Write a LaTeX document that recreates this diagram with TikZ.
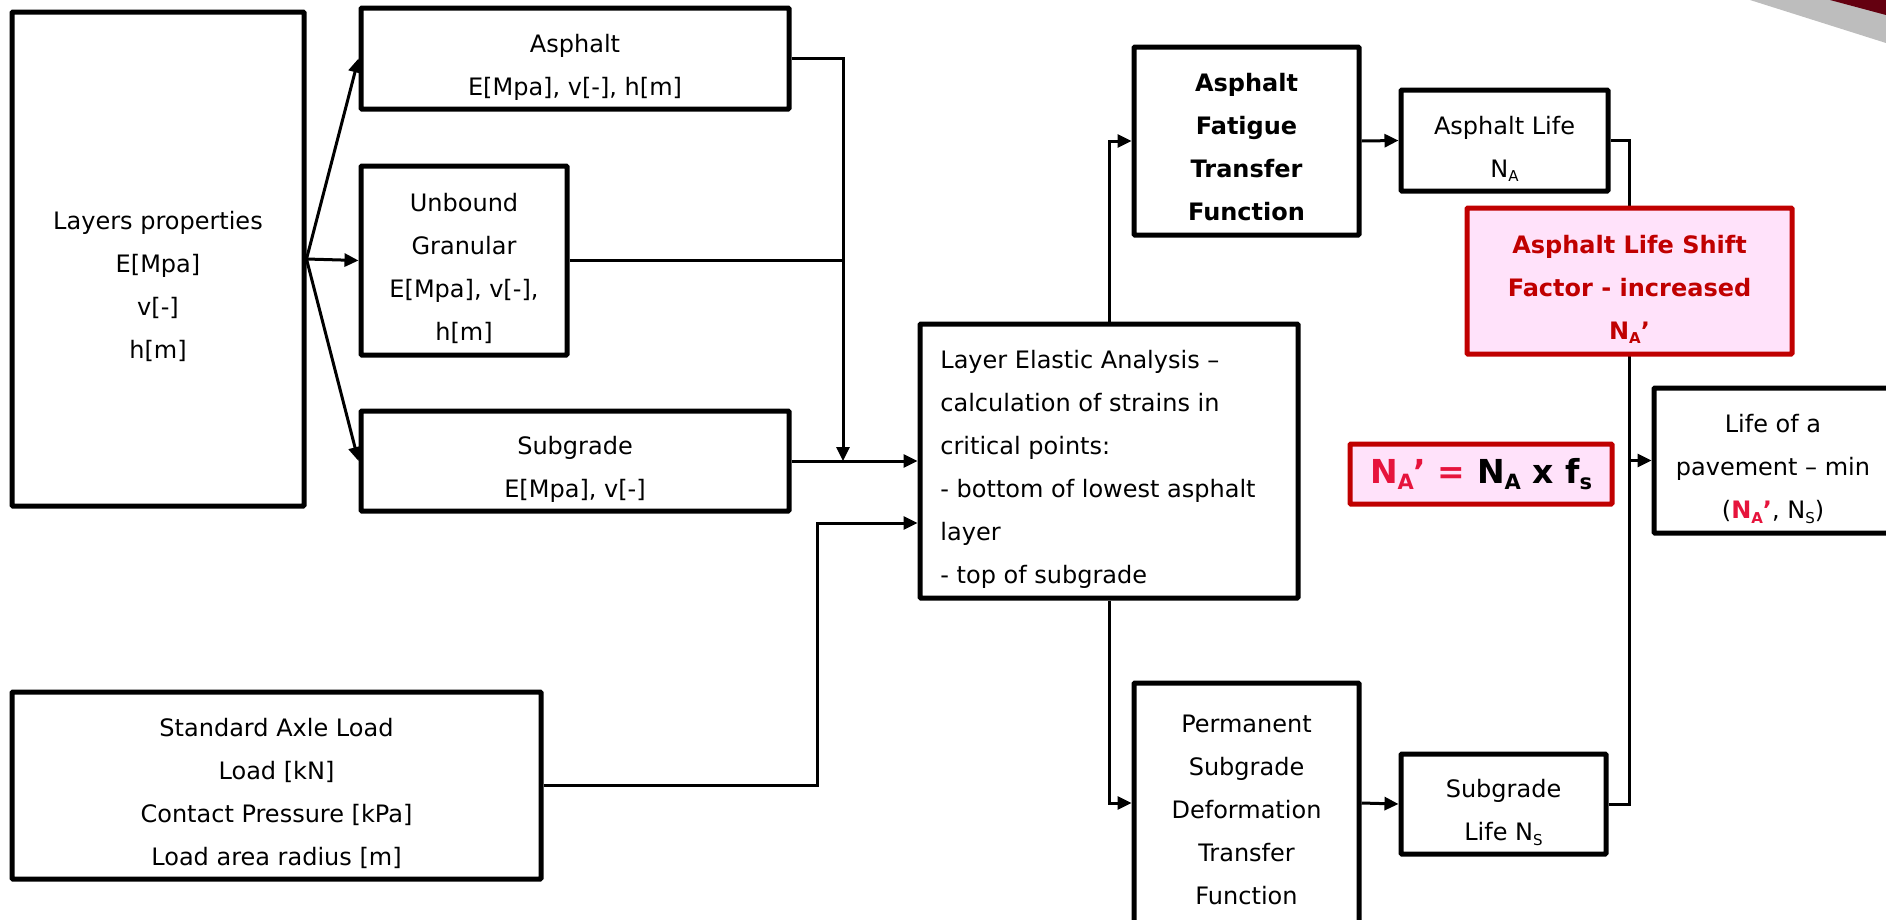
\documentclass[tikz,border=0pt]{standalone}
\usepackage{fontspec}
\setmainfont{DejaVu Sans}
\usetikzlibrary{arrows.meta}
\definecolor{boxred}{RGB}{192,0,0}
\definecolor{boxpink}{RGB}{255,226,250}
\definecolor{crim}{RGB}{230,20,60}
\definecolor{swgray}{RGB}{189,189,189}
\definecolor{swred}{RGB}{100,0,16}
\newcommand\lsub[2][15]{\raisebox{-0.35ex}{\fontsize{#1}{#1}\selectfont #2}}
\newcommand\ctext[1]{\raisebox{-6.5pt}[\height][\depth]{\begin{tabular}{@{}c@{}}#1\end{tabular}}}
\newcommand\ltext[1]{\raisebox{-6.5pt}[\height][\depth]{\begin{tabular}{@{}l@{}}#1\end{tabular}}}
\begin{document}
\begin{tikzpicture}[x=1pt,y=-1pt,
  txt/.style={align=center, inner sep=0pt, font=\fontsize{24}{43}\selectfont},
  box/.style={inner sep=0pt, font=\fontsize{24}{43}\selectfont, draw=black, line width=5pt, rounded corners=1pt, fill=white},
  conn/.style={line width=3pt},
  arr/.style={conn, -{Triangle[length=14pt,width=13pt]}},
  redbox/.style={box, draw=boxred, fill=boxpink, text=boxred}]
\useasboundingbox (0,0) rectangle (1886,919);
\clip (0,0) rectangle (1886,919);
% decorative swoosh
\fill[swgray] (1750,0) -- (1886,0) -- (1886,43) -- cycle;
\fill[swred] (1830,0) -- (1886,0) -- (1886,15) -- cycle;
% nodes
\node[box, minimum width=292, minimum height=494] (layers) at (158,259) {};
\node[txt] (layerstxt) at (158,286) {Layers properties\\E[Mpa]\\v[-]\\h[m]};
\node[box, minimum width=428, minimum height=101] (asph) at (575,58.5) {\ctext{Asphalt\\E[Mpa], v[-], h[m]}};
\node[box, minimum width=206, minimum height=189] (unb) at (464,260.5) {\ctext{Unbound\\Granular\\E[Mpa], v[-],\\h[m]}};
\node[box, minimum width=428, minimum height=100] (subg) at (575,461) {\ctext{Subgrade\\E[Mpa], v[-]}};
\node[box, minimum width=529, minimum height=187] (axle) at (276.5,785.5) {\ctext{Standard Axle Load\\Load [kN]\\Contact Pressure [kPa]\\Load area radius [m]}};
\node[box, minimum width=378, minimum height=274] (lea) at (1109,461) {\ltext{Layer Elastic Analysis –\\calculation of strains in\\critical points:\\- bottom of lowest asphalt\\layer\\- top of subgrade}\kern22pt};
\node[box, minimum width=225, minimum height=188, font=\fontsize{24}{43}\selectfont\bfseries] (fat) at (1246.5,141) {\ctext{Asphalt\\Fatigue\\Transfer\\Function}};
\node[box, minimum width=207, minimum height=101] (alife) at (1504.5,140.5) {\ctext{Asphalt Life\\N\lsub{A}}};
\node[box, minimum width=225, minimum height=240] (perm) at (1246.5,803) {\ctext{Permanent\\Subgrade\\Deformation\\Transfer\\Function}};
\node[box, minimum width=205, minimum height=100] (slife) at (1503.5,804) {\ctext{Subgrade\\Life N\lsub{S}}};
\node[box, minimum width=238, minimum height=145] (pav) at (1773,460.5) {\ctext{Life of a\\pavement – min\\({\bfseries\color{crim}N\lsub{A}’}, N\lsub{S})}};
\node[redbox, minimum width=262, minimum height=60, font=\fontsize{33}{40}\selectfont\bfseries, text=black] (form) at (1481,474) {{\color{crim}N\lsub[21]{A}’ =} N\lsub[21]{A} x f\lsub[21]{s}};
% connectors
\coordinate (j) at (843,461);
\coordinate (k) at (817,523);
\coordinate (v) at (1629,0);
\draw[arr] (layers.east) -- (asph.west);
\draw[arr] (layers.east) -- (unb.west);
\draw[arr] (layers.east) -- (subg.west);
\draw[arr] (asph.east) -| (j);
\draw[conn] (unb.east) -- (unb.east -| j);
\draw[arr] (subg.east) -- (lea.west);
\draw[arr] (axle.east) -| (k) -- (k -| lea.west);
\draw[arr] (lea.north) |- (fat.west);
\draw[arr] (lea.south) |- (perm.west);
\draw[arr] (fat.east) -- (alife.west);
\draw[arr] (perm.east) -- (slife.west);
\draw[conn] (alife.east) -- (alife.east -| v) -- (slife.east -| v) -- (slife.east);
\draw[arr] (pav.west -| v) -- (pav.west);
% shift factor box on top of the vertical line
\node[redbox, minimum width=325, minimum height=146, font=\fontsize{24}{43}\selectfont\bfseries] (shift) at (1629.5,281) {\ctext{Asphalt Life Shift\\Factor - increased\\N\lsub{A}’}};
\end{tikzpicture}
\end{document}
